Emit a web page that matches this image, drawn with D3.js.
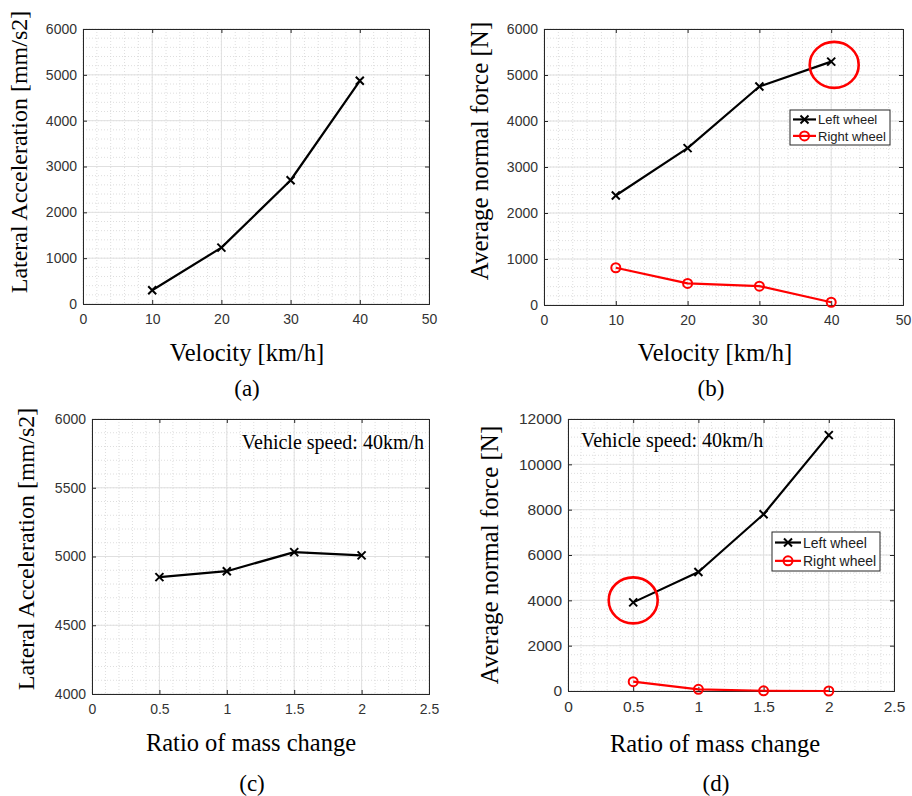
<!DOCTYPE html>
<html>
<head>
<meta charset="utf-8">
<script src="https://cdn.jsdelivr.net/npm/d3@7"></script>
<style>
  html, body { margin: 0; padding: 0; background: #fff; }
  svg { display: block; }
</style>
</head>
<body>
<svg id="fig" width="912" height="796"></svg>
<script>
// ---- data ----
const velocity = [10, 20, 30, 40];                 // km/h
const latAccelByVelocity = [300, 1230, 2700, 4870]; // mm/s2
const leftForceByVelocity = [2380, 3410, 4750, 5290];  // N
const rightForceByVelocity = [810, 470, 410, 60];      // N

const massRatio = [0.5, 1, 1.5, 2];
const latAccelByMass = [4850, 4893, 5032, 5008];     // mm/s2
const leftForceByMass = [3910, 5250, 7800, 11290];   // N
const rightForceByMass = [410, 75, 10, 0];           // N

const velocityTicks = [0, 10, 20, 30, 40, 50];
const ratioTicks = [0, 0.5, 1, 1.5, 2, 2.5];
const accelTicksA = [0, 1000, 2000, 3000, 4000, 5000, 6000];
const forceTicksB = [0, 1000, 2000, 3000, 4000, 5000, 6000];
const accelTicksC = [4000, 4500, 5000, 5500, 6000];
const forceTicksD = [0, 2000, 4000, 6000, 8000, 10000, 12000];

const seriesNames = ["Left wheel", "Right wheel"];
const speedNote = "Vehicle speed: 40km/h";

// ---- styling ----
const SERIF = "'Liberation Serif', 'Times New Roman', serif";
const SANS = "'Liberation Sans', Arial, sans-serif";
const AX = "#262626";
const TICKTXT = "#333";
const RED = "#ff0000";

const svg = d3.select("#fig");

function range(a, b, s) {
  const out = [];
  for (let v = a; v <= b + s * 1e-6; v += s) out.push(+v.toFixed(6));
  return out;
}

function drawMarker(g, kind, x, y) {
  if (kind === "x") {
    const s = 4;
    g.append("path")
      .attr("d", `M${x - s},${y - s}L${x + s},${y + s}M${x - s},${y + s}L${x + s},${y - s}`)
      .attr("stroke", "#000").attr("stroke-width", 2).attr("fill", "none");
  } else {
    g.append("circle").attr("cx", x).attr("cy", y).attr("r", 4.5)
      .attr("stroke", RED).attr("stroke-width", 2).attr("fill", "none");
  }
}

function panel(cfg) {
  const g = svg.append("g");
  const x = d3.scaleLinear().domain(cfg.xDomain).range([cfg.left, cfg.right]);
  const y = d3.scaleLinear().domain(cfg.yDomain).range([cfg.bottom, cfg.top]);

  // minor grid (dotted)
  const gm = g.append("g").attr("stroke", "#d6d6d6").attr("stroke-width", 0.8)
    .attr("stroke-dasharray", "1,2");
  range(cfg.xDomain[0], cfg.xDomain[1], cfg.xMinor).forEach(v => {
    gm.append("line").attr("x1", x(v)).attr("x2", x(v)).attr("y1", cfg.top).attr("y2", cfg.bottom);
  });
  range(cfg.yDomain[0], cfg.yDomain[1], cfg.yMinor).forEach(v => {
    gm.append("line").attr("y1", y(v)).attr("y2", y(v)).attr("x1", cfg.left).attr("x2", cfg.right);
  });
  // major grid
  const gg = g.append("g").attr("stroke", "#e0e0e0").attr("stroke-width", 1);
  cfg.xTicks.forEach(v => gg.append("line").attr("x1", x(v)).attr("x2", x(v)).attr("y1", cfg.top).attr("y2", cfg.bottom));
  cfg.yTicks.forEach(v => gg.append("line").attr("y1", y(v)).attr("y2", y(v)).attr("x1", cfg.left).attr("x2", cfg.right));

  // axes (ticks inward) on all four sides
  const tl = 4;
  const axB = g.append("g").attr("transform", `translate(0,${cfg.bottom})`)
    .call(d3.axisBottom(x).tickValues(cfg.xTicks).tickSize(-tl).tickPadding(7).tickFormat(d3.format("")));
  const axT = g.append("g").attr("transform", `translate(0,${cfg.top})`)
    .call(d3.axisTop(x).tickValues(cfg.xTicks).tickSize(-tl).tickFormat(""));
  const axL = g.append("g").attr("transform", `translate(${cfg.left},0)`)
    .call(d3.axisLeft(y).tickValues(cfg.yTicks).tickSize(-tl).tickPadding(6).tickFormat(d3.format("")));
  const axR = g.append("g").attr("transform", `translate(${cfg.right},0)`)
    .call(d3.axisRight(y).tickValues(cfg.yTicks).tickSize(-tl).tickFormat(""));
  [axB, axT, axL, axR].forEach(a => {
    a.select(".domain").attr("stroke", AX).attr("stroke-width", 1);
    a.selectAll(".tick line").attr("stroke", AX);
    a.selectAll(".tick text").attr("fill", TICKTXT)
      .style("font-family", SANS).style("font-size", cfg.tickFont + "px");
  });
  axB.selectAll(".tick text").attr("dy", "0.9em");

  // series
  cfg.series.forEach(s => {
    const pts = cfg.xs.map((v, i) => [x(v), y(s.values[i])]);
    g.append("path").attr("d", d3.line()(pts))
      .attr("fill", "none").attr("stroke", s.color).attr("stroke-width", 2.2)
      .attr("stroke-linejoin", "round");
    pts.forEach(p => drawMarker(g, s.marker, p[0], p[1]));
  });

  // highlight ring
  if (cfg.ring) {
    g.append("ellipse")
      .attr("cx", x(cfg.ring.x) + cfg.ring.dx).attr("cy", y(cfg.ring.y))
      .attr("rx", cfg.ring.rx).attr("ry", cfg.ring.ry)
      .attr("fill", "none").attr("stroke", RED).attr("stroke-width", 2.6);
  }

  // note text
  if (cfg.note) {
    g.append("text").attr("x", cfg.note.x).attr("y", cfg.note.y)
      .attr("text-anchor", cfg.note.anchor)
      .style("font-family", SERIF).style("font-size", "20px").attr("fill", "#000")
      .text(speedNote);
  }

  // legend
  if (cfg.legend) {
    const L = cfg.legend;
    const lg = g.append("g");
    lg.append("rect").attr("x", L.x).attr("y", L.y).attr("width", L.w).attr("height", L.h)
      .attr("fill", "#fff").attr("stroke", AX).attr("stroke-width", 1);
    cfg.series.forEach((s, i) => {
      const cy = L.y + L.h * (i === 0 ? 0.27 : 0.74);
      lg.append("line").attr("x1", L.x + 3).attr("x2", L.x + 3 + L.lineLen)
        .attr("y1", cy).attr("y2", cy).attr("stroke", s.color).attr("stroke-width", 2.2);
      drawMarker(lg, s.marker, L.x + 3 + L.lineLen / 2, cy);
      lg.append("text").attr("x", L.x + 5 + L.lineLen).attr("y", cy).attr("dy", "0.36em")
        .style("font-family", SANS).style("font-size", L.font + "px").attr("fill", "#222")
        .text(seriesNames[i]);
    });
  }

  // axis labels and caption
  g.append("text").attr("transform", `translate(${cfg.yLabelX},${cfg.yLabelY}) rotate(-90)`)
    .attr("text-anchor", "middle").attr("dy", "0.35em")
    .style("font-family", SERIF).style("font-size", cfg.yLabelFont + "px").attr("fill", "#000")
    .text(cfg.yLabel);
  g.append("text").attr("x", cfg.xLabelX).attr("y", cfg.xLabelY).attr("dy", "0.35em")
    .attr("text-anchor", "middle")
    .style("font-family", SERIF).style("font-size", "24.5px").attr("fill", "#000")
    .text(cfg.xLabel);
  g.append("text").attr("x", cfg.capX).attr("y", cfg.capY).attr("dy", "0.35em")
    .attr("text-anchor", "middle")
    .style("font-family", SERIF).style("font-size", "23px").attr("fill", "#000")
    .text(cfg.caption);
}

// (a) lateral acceleration vs velocity
panel({
  left: 83, right: 429, top: 29, bottom: 304,
  xDomain: [0, 50], yDomain: [0, 6000], xTicks: velocityTicks, yTicks: accelTicksA,
  xMinor: 2, yMinor: 200, tickFont: 14,
  xs: velocity,
  series: [{ values: latAccelByVelocity, color: "#000", marker: "x" }],
  yLabel: "Lateral Acceleration [mm/s2]", yLabelX: 19, yLabelY: 152, yLabelFont: 24,
  xLabel: "Velocity [km/h]", xLabelX: 247, xLabelY: 352,
  caption: "(a)", capX: 247, capY: 388
});

// (b) normal force vs velocity
panel({
  left: 544, right: 903, top: 29, bottom: 305,
  xDomain: [0, 50], yDomain: [0, 6000], xTicks: velocityTicks, yTicks: forceTicksB,
  xMinor: 2, yMinor: 200, tickFont: 14,
  xs: velocity,
  series: [
    { values: leftForceByVelocity, color: "#000", marker: "x" },
    { values: rightForceByVelocity, color: RED, marker: "o" }
  ],
  ring: { x: 40, y: 5220, dx: 3, rx: 24.5, ry: 23 },
  legend: { x: 790, y: 110, w: 100, h: 35, lineLen: 23, font: 13 },
  yLabel: "Average normal force [N]", yLabelX: 479, yLabelY: 151, yLabelFont: 25,
  xLabel: "Velocity [km/h]", xLabelX: 715, xLabelY: 352,
  caption: "(b)", capX: 711, capY: 388
});

// (c) lateral acceleration vs mass ratio
panel({
  left: 92, right: 429, top: 419, bottom: 694,
  xDomain: [0, 2.5], yDomain: [4000, 6000], xTicks: ratioTicks, yTicks: accelTicksC,
  xMinor: 0.1, yMinor: 100, tickFont: 14,
  xs: massRatio,
  series: [{ values: latAccelByMass, color: "#000", marker: "x" }],
  note: { x: 424, y: 449, anchor: "end" },
  yLabel: "Lateral Acceleration [mm/s2]", yLabelX: 26, yLabelY: 549, yLabelFont: 24,
  xLabel: "Ratio of mass change", xLabelX: 251, xLabelY: 742,
  caption: "(c)", capX: 252, capY: 783
});

// (d) normal force vs mass ratio
panel({
  left: 568, right: 894, top: 419, bottom: 691,
  xDomain: [0, 2.5], yDomain: [0, 12000], xTicks: ratioTicks, yTicks: forceTicksD,
  xMinor: 0.1, yMinor: 400, tickFont: 15.5,
  xs: massRatio,
  series: [
    { values: leftForceByMass, color: "#000", marker: "x" },
    { values: rightForceByMass, color: RED, marker: "o" }
  ],
  ring: { x: 0.5, y: 4000, dx: 0, rx: 24.5, ry: 23 },
  legend: { x: 772, y: 532, w: 108, h: 39, lineLen: 26, font: 14 },
  note: { x: 581, y: 447, anchor: "start" },
  yLabel: "Average normal force [N]", yLabelX: 489, yLabelY: 555, yLabelFont: 25,
  xLabel: "Ratio of mass change", xLabelX: 715, xLabelY: 743,
  caption: "(d)", capX: 716, capY: 783
});
</script>
</body>
</html>
